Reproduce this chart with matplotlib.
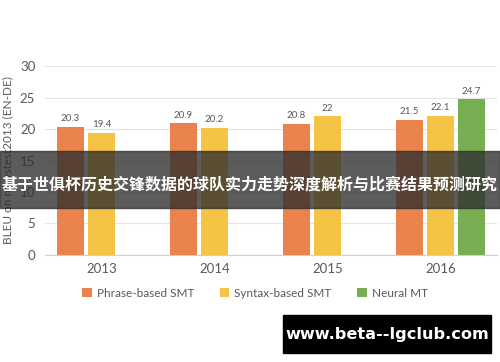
import matplotlib
matplotlib.use("Agg")
import matplotlib.pyplot as plt
from matplotlib.patches import Rectangle
import numpy as np

plt.rcParams['font.family'] = ['Lato', 'Noto Sans CJK SC', 'DejaVu Sans']

# données
years = ['2013', '2014', '2015', '2016']
series_names = ['Phrase-based SMT', 'Syntax-based SMT', 'Neural MT']
phrase_smt = [20.3, 20.9, 20.8, 21.5]
syntax_smt = [19.4, 20.2, 22.0, 22.1]
neural_mt = [np.nan, np.nan, np.nan, 24.7]
colors = ['#E9834B', '#F6C445', '#78AE52']

title_text = '基于世俱杯历史交锋数据的球队实力走势深度解析与比赛结果预测研究'
site_text = 'www.beta--lgclub.com'

fig = plt.figure(figsize=(5, 3.62), dpi=100)
ax = fig.add_axes([0.09, 0.2956, 0.904, 0.522])

x = np.arange(len(years))
slot = 0.275
width = 0.232
grey = '#595959'

for i, (vals, col, name) in enumerate(zip([phrase_smt, syntax_smt, neural_mt], colors, series_names)):
    pos = x + (i - 1) * slot
    v = np.array(vals, dtype=float)
    ok = ~np.isnan(v)
    bars = ax.bar(pos[ok], v[ok], width, color=col, label=name, zorder=2)
    for b, val in zip(bars, v[ok]):
        txt = f'{val:g}'
        ax.text(b.get_x() + b.get_width() / 2, val + 0.6, txt,
                ha='center', va='bottom', fontsize=7, color=grey)

ax.set_xlim(-0.5, 3.5)
ax.set_ylim(0, 30)
ax.set_yticks(range(0, 31, 5))
ax.set_xticks(x)
ax.set_xticklabels(years)
ax.tick_params(axis='both', length=0, colors=grey, labelsize=9.5)
ax.tick_params(axis='y', pad=7)
ax.tick_params(axis='x', pad=6)
ax.grid(axis='y', color='#e3e3e3', linewidth=0.8, zorder=0)
for s in ['top', 'right', 'left']:
    ax.spines[s].set_visible(False)
ax.spines['bottom'].set_color('#d0d0d0')
ax.set_ylabel('BLEU on newstest2013 (EN-DE)', color=grey, fontsize=8.5, labelpad=5)

fig.legend(loc='center', bbox_to_anchor=(0.51, 0.19), ncol=3, frameon=False,
           fontsize=8.5, handlelength=0.8, handleheight=0.8, columnspacing=2.2,
           handletextpad=0.4, labelcolor=grey)

# bandeau sombre
fig.patches.append(Rectangle((0, 0.4254), 1, 0.157, transform=fig.transFigure,
                             color='#2e2e2e', alpha=0.78, zorder=5))
fig.text(0.5, 0.49, title_text, ha='center', va='center', color='white',
         fontsize=11.5, fontweight='bold', zorder=6,
         family=['Noto Sans CJK SC', 'DejaVu Sans'])

# boîte noire
fig.patches.append(Rectangle((0.566, 0.025), 0.416, 0.105, transform=fig.transFigure,
                             color='black', zorder=5))
fig.text(0.774, 0.077, site_text, ha='center', va='center', color='white',
         fontsize=11.6, fontweight='bold', zorder=6, family=['DejaVu Sans'])

fig.savefig('out.png', dpi=100)
